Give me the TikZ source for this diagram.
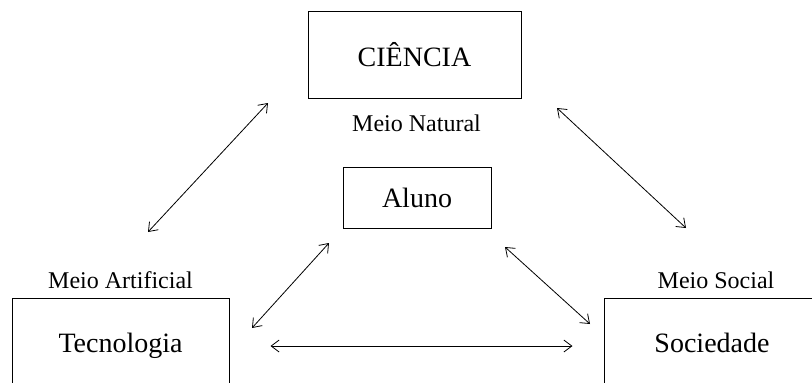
\documentclass[tikz,border=0pt]{standalone}
\usepackage{fontspec}
\setmainfont{Liberation Serif}
\usetikzlibrary{arrows.meta}

\begin{document}
\begin{tikzpicture}[x=1pt, y=-1pt, >={Straight Barb[length=8pt, width=12pt]},
	box/.style={draw, line width=1pt, inner sep=0pt, font=\fontsize{28}{33}\selectfont},
	meio/.style={anchor=base, font=\fontsize{24}{28}\selectfont},
	link/.style={<->, line width=0.8pt}]
	\useasboundingbox (0,0) rectangle (812,383);
	% the three poles and the student
	\node[box, minimum width=213pt, minimum height=87pt] (ciencia) at (414.5,54.5) {CIÊNCIA};
	\node[box, minimum width=148pt, minimum height=61pt] (aluno) at (417,197.5) {Aluno};
	\node[box, minimum width=217pt, minimum height=96pt, text height=19.1pt, text depth=6.1pt] (tecnologia) at (120.5,346) {Tecnologia};
	\node[box, minimum width=216pt, minimum height=96pt, text height=19.1pt, text depth=6.1pt] (sociedade) at (712,346) {Sociedade};
	\node[meio] (natural) at (416.5,131) {Meio Natural};
	\node[meio] (artificial) at (120.5,288) {Meio Artificial};
	\node[meio] (social) at (716,288) {Meio Social};
	% arrow ends
	\coordinate (tc) at (148,232);
	\coordinate (ct) at (268,103);
	\coordinate (cs) at (557,108);
	\coordinate (sc) at (686,228);
	\coordinate (ta) at (252,328);
	\coordinate (at) at (329,243);
	\coordinate (as) at (505,247);
	\coordinate (sa) at (590,324);
	\draw[link] (tc) -- (ct);
	\draw[link] (cs) -- (sc);
	\draw[link] (ta) -- (at);
	\draw[link] (as) -- (sa);
	\draw[link, shorten <=41pt, shorten >=31pt] (tecnologia.east) -- (sociedade.west);
\end{tikzpicture}
\end{document}
